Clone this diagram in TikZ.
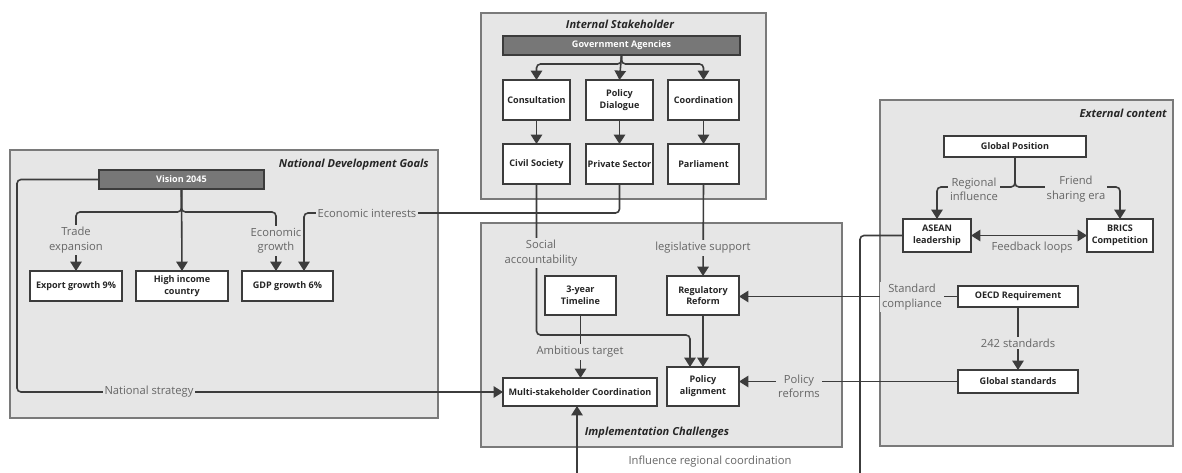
\documentclass[tikz,border=0pt]{standalone}
\usepackage{fontspec}
\setmainfont{Open Sans}
\usetikzlibrary{arrows.meta,calc}
\definecolor{ln}{HTML}{3C3C3C}
\definecolor{lbl}{HTML}{666666}
\definecolor{grpfill}{HTML}{E6E6E6}
\definecolor{grpline}{HTML}{7A7A7A}
\definecolor{bar}{HTML}{777777}
\newcommand\bx[7]{\node[#1,minimum width={(#5-#3)*0.75pt},minimum height={(#6-#4)*0.75pt}] (#2) at ({(#3+#5)/2},{(#4+#6)/2}) {#7};}
\tikzset{
  grp/.style={fill=grpfill,draw=grpline,line width=0.8pt},
  gtitle/.style={font=\fontsize{8.3}{10}\selectfont\bfseries\itshape,text=black!85,inner sep=0pt},
  box/.style={draw=ln,fill=white,line width=0.8pt,inner sep=0pt,outer sep=0pt,align=center,font=\fontsize{6.8}{8.8}\selectfont\bfseries,text=black!85},
  darkbox/.style={box,fill=bar,text=white},
  arr/.style={draw=ln,line width=1.2pt,rounded corners=3pt,-{Triangle[length=7pt,width=8.5pt]}},
  arrb/.style={draw=ln,line width=1.2pt,{Triangle[length=7pt,width=8.5pt]}-{Triangle[length=7pt,width=8.5pt]}},
  lab/.style={font=\fontsize{8.4}{10.8}\selectfont,text=lbl,fill=grpfill,inner sep=1.5pt,align=center},
}
\begin{document}
\begin{tikzpicture}[x=0.75pt,y=-0.75pt]
\useasboundingbox (0,0) rectangle (1182,472);
\clip (0,0) rectangle (1182,472);
\fill[white] (0,0) rectangle (1182,472);
% groups
\path[grp] (481,13) rectangle (766,199);
\node[gtitle] (t1) at (620,24) {Internal Stakeholder};
\path[grp] (10,150) rectangle (438,418);
\node[gtitle,anchor=east] (t2) at (429,165) {National Development Goals};
\path[grp] (481,223) rectangle (842,447);
\node[gtitle] (t3) at (657,433) {Implementation Challenges};
\path[grp] (880,100) rectangle (1173,446);
\node[gtitle,anchor=east] (t4) at (1167,113) {External content};
% boxes
\bx{darkbox}{gov}{503}{36}{740}{55}{Government Agencies}
\bx{box}{cons}{503}{80}{570}{120}{Consultation}
\bx{box}{pd}{586}{80}{653}{120}{Policy\\Dialogue}
\bx{box}{crd}{668}{80}{739}{120}{Coordination}
\bx{box}{civ}{503}{144}{570}{184}{Civil Society}
\bx{box}{priv}{586}{144}{653}{184}{Private Sector}
\bx{box}{parl}{668}{144}{739}{184}{Parliament}
\bx{darkbox}{vis}{99}{170}{264}{189}{Vision 2045}
\bx{box}{exp}{30}{271}{122}{301}{Export growth 9\%}
\bx{box}{hic}{136}{271}{228}{301}{High income\\country}
\bx{box}{gdp}{242}{271}{333}{301}{GDP growth 6\%}
\bx{box}{tl}{545}{276}{616}{315}{3-year\\Timeline}
\bx{box}{rr}{667}{276}{739}{315}{Regulatory\\Reform}
\bx{box}{pa}{667}{367}{739}{406}{Policy\\alignment}
\bx{box}{msc}{503}{378}{657}{406}{Multi-stakeholder Coordination}
\bx{box}{gp}{944}{136}{1086}{157}{Global Position}
\bx{box}{asean}{903}{219}{971}{252}{ASEAN\\leadership}
\bx{box}{brics}{1087}{219}{1153}{252}{BRICS\\Competition}
\bx{box}{oecd}{958}{286}{1078}{307}{OECD Requirement}
\bx{box}{gs}{958}{370}{1078}{393}{Global standards}
% connectors
\draw[arr] (gov.south) -- ++(0,9) -| (cons.north);
\draw[arr] (gov.south) -- (pd.north);
\draw[arr] (gov.south) -- ++(0,9) -| (crd.north);
\draw[arr] (cons.south) -- (civ.north);
\draw[arr] (pd.south) -- (priv.north);
\draw[arr] (crd.south) -- (parl.north);
\draw[arr] (vis.south) -- ++(0,23) -| (exp.north);
\draw[arr] (vis.south) -- (hic.north);
\draw[arr] (vis.south) -- ++(0,23) -| ($(gdp.north)+(-11.5,0)$);
\draw[arr] (priv.south) -- ++(0,29) -| ($(gdp.north)+(16.5,0)$);
\draw[arr] (vis.west) -| ($(msc.west)+(-486,0)$) -- (msc.west);
\draw[arr] (civ.south) |- ($(pa.north)+(-13,-32)$) -- ($(pa.north)+(-13,0)$);
\draw[arr] (parl.south) -- (rr.north);
\draw[arr] (tl.south) -- (tl.south |- msc.north);
\draw[arr] (rr.south) -- (rr.south |- pa.north);
\draw[arr] (oecd.west) -- (oecd.west -| rr.east);
\draw[arr] (gs.west) -- (gs.west -| pa.east);
\draw[arr] (oecd.south) -- (gs.north);
\draw[arr] (gp.south) -- ++(0,30) -| (asean.north);
\draw[arr] (gp.south) -- ++(0,30) -| (brics.north);
\draw[arrb] (asean.east) -- (brics.west);
\draw[arr] (asean.west) -| ($(msc.south)+(280,84)$) -| ($(msc.south)+(-3,0)$);
% labels
\node[lab] (l1) at (76,240) {Trade\\expansion};
\node[lab] (l2) at (276,241) {Economic\\growth};
\node[lab] (l3) at (367,213) {Economic interests};
\node[lab] (l4) at (149,392) {National strategy};
\node[lab] (l5) at (541,253) {Social\\accountability};
\node[lab] (l6) at (703,248) {legislative support};
\node[lab] (l7) at (580,352) {Ambitious target};
\node[lab] (l8) at (799,386) {Policy\\reforms};
\node[lab] (l9) at (912,297) {Standard\\compliance};
\node[lab] (l10) at (1018,343) {242 standards};
\node[lab] (l11) at (974,189) {Regional\\influence};
\node[lab] (l12) at (1076,189) {Friend\\sharing era};
\node[lab,fill=none] (l13) at (1032,248) {Feedback loops};
\node[lab,fill=none] (l14) at (710,462) {Influence regional coordination};
\end{tikzpicture}
\end{document}
